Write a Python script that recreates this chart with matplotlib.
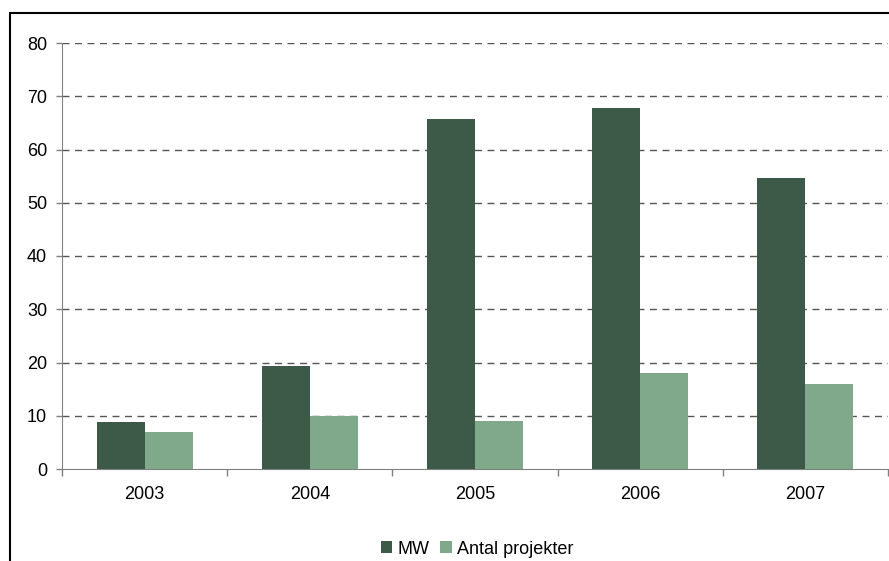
import matplotlib
matplotlib.use("Agg")
import matplotlib.pyplot as plt
import numpy as np
from matplotlib.patches import Rectangle

plt.rcParams['font.family'] = ['Liberation Sans', 'DejaVu Sans']

years = ["2003", "2004", "2005", "2006", "2007"]
mw = [8.8, 19.3, 65.8, 67.7, 54.7]
antal = [7, 10, 9, 18, 16]
yticks = [0, 10, 20, 30, 40, 50, 60, 70, 80]

c_mw = "#3d5a48"
c_antal = "#80a88a"

fig = plt.figure(figsize=(8.89, 5.61), dpi=100)
ax = fig.add_axes([62/889, 1 - 469/561, (888-62)/889, (469-43)/561])

x = np.arange(len(years))
w = 0.29
ax.bar(x - w/2, mw, width=w, color=c_mw, label="MW", zorder=3)
ax.bar(x + w/2, antal, width=w, color=c_antal, label="Antal projekter", zorder=3)

ax.set_xlim(-0.5, len(years) - 0.5)
ax.set_ylim(0, 80)
ax.set_yticks(yticks)
ax.set_yticklabels([str(t) for t in yticks], fontsize=13)
ax.set_xticks(x)
ax.set_xticklabels(years, fontsize=13)
ax.tick_params(axis='x', length=0, pad=12)
ax.set_xticks(np.arange(len(years) + 1) - 0.5, minor=True)
ax.tick_params(axis='x', which='minor', length=5, color='#808080', width=1)
ax.tick_params(axis='y', length=4.3, color='#808080', width=1, pad=6.5)

for t in yticks[1:]:
    ax.axhline(t, color='#555555', linestyle=(0, (5, 4)), linewidth=1, zorder=1)

for s in ['top', 'right']:
    ax.spines[s].set_visible(False)
ax.spines['left'].set_color('#808080')
ax.spines['bottom'].set_color('#808080')

leg = fig.legend(loc='center', bbox_to_anchor=(477/889, 1 - 549/561), ncol=2,
                 frameon=False, fontsize=13, handlelength=0.65, handleheight=0.65,
                 handletextpad=0.3, columnspacing=0.55)

fig.patches.append(Rectangle((10/889, -0.01), 1.0, 1 - 13/561 + 0.01,
                             transform=fig.transFigure, fill=False,
                             edgecolor='black', linewidth=1.5))

fig.savefig("out.png", dpi=100)
